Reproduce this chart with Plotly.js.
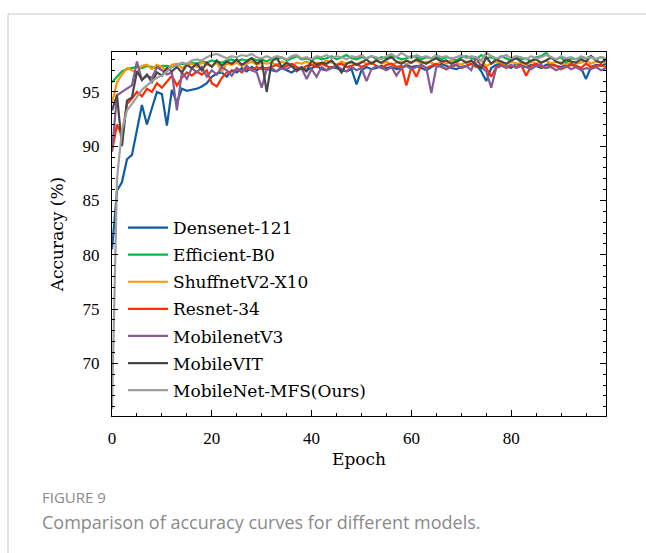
<!DOCTYPE html>
<html>
<head>
<meta charset="utf-8">
<script src="https://cdn.plot.ly/plotly-3.0.1.min.js"></script>
<style>html,body{margin:0;padding:0;background:#fff;}#chart{width:646px;height:553px;}</style>
</head>
<body>
<div id="chart"></div>
<script>
const epochs = Array.from({length: 100}, (_, i) => i);

const seriesNames = ["Densenet-121", "Efficient-B0", "ShuffnetV2-X10", "Resnet-34", "MobilenetV3", "MobileVIT", "MobileNet-MFS(Ours)"];
const seriesColors = ["#0C5DA5", "#00B945", "#FF9500", "#FF2C00", "#845B97", "#474747", "#9e9e9e"];

const densenet = [80.5,85.9,86.7,88.8,89.2,91.5,93.8,92.0,93.5,95.0,94.8,91.9,95.2,94.0,95.3,95.1,95.2,95.3,95.5,95.8,96.4,96.7,96.8,96.4,97.0,96.8,97.2,96.9,97.3,97.0,97.3,97.1,
97.0,96.9,97.2,97.0,96.8,97.1,97.3,97.0,97.2,97.4,97.1,97.0,97.3,97.2,97.0,96.9,97.1,95.7,97.0,97.3,97.1,97.2,97.4,97.2,97.3,97.1,97.2,97.5,97.3,97.4,97.2,97.0,97.3,97.5,97.6,97.4,97.2,97.1,97.3,97.4,97.6,97.5,96.9,96.0,97.2,97.5,97.6,97.4,97.2,97.6,97.4,97.3,97.5,97.4,97.2,97.5,97.6,97.4,97.3,97.5,97.6,97.4,97.2,96.2,97.3,97.5,97.4,97.6];

const efficient = [95.9,96.4,96.9,97.1,97.2,97.3,97.2,97.4,97.3,97.2,97.4,97.4,97.3,97.5,97.6,97.5,97.7,97.6,97.8,97.7,97.9,97.8,97.7,97.9,98.0,97.8,98.0,97.9,98.1,97.9,98.0,97.8,
98.1,98.0,98.2,97.9,98.1,98.3,98.0,98.1,97.9,98.2,98.0,98.1,98.3,98.0,98.2,98.4,98.1,98.0,98.2,98.1,98.3,98.0,98.2,98.1,98.3,98.2,98.0,98.1,98.3,98.2,98.0,98.2,98.1,98.3,98.0,98.2,98.1,97.9,98.2,98.3,98.1,98.0,98.4,98.1,98.2,98.0,98.3,98.1,97.9,98.2,98.0,98.1,97.8,98.2,98.3,98.6,98.1,98.0,98.2,97.7,98.1,98.0,98.2,98.1,98.3,98.0,98.2,98.1];

const shufflenet = [94.0,95.9,96.6,97.2,97.0,96.8,97.4,97.5,97.1,97.5,97.3,96.9,97.5,97.6,97.2,97.5,97.6,97.3,97.7,97.5,97.4,97.7,96.9,97.6,97.5,97.7,97.4,97.6,97.8,97.5,97.7,97.6,
97.7,97.5,97.8,97.6,97.4,97.7,97.6,97.8,97.5,97.7,97.6,97.9,97.7,97.5,97.8,97.6,97.7,97.5,97.8,97.6,97.7,97.9,97.6,97.8,97.5,97.7,97.8,97.6,97.7,97.9,97.6,97.8,97.7,97.5,97.8,97.6,97.9,97.7,97.5,97.8,97.6,97.7,97.9,97.4,97.6,97.8,97.7,97.5,97.8,97.6,97.7,97.5,97.8,97.6,97.7,97.9,97.6,97.8,97.7,97.5,97.8,97.6,97.7,97.9,97.6,97.8,97.7,97.8];

const resnet = [89.5,92.0,91.0,93.9,94.4,95.0,94.6,95.3,95.0,95.8,95.4,96.0,96.5,95.6,96.3,96.8,96.5,96.9,96.6,97.0,95.8,95.5,96.3,96.8,96.9,97.1,96.8,97.2,97.0,97.3,97.1,97.2,
97.3,97.5,97.2,97.4,97.6,97.3,97.1,97.4,97.5,97.3,97.6,97.4,97.2,97.5,97.6,97.3,97.4,97.6,97.3,97.5,97.7,97.4,97.2,97.5,97.6,97.3,97.4,95.6,97.3,96.4,97.5,97.2,97.4,97.6,97.3,97.1,97.4,97.5,97.2,97.4,97.6,97.3,97.5,97.2,96.4,97.3,97.5,97.2,97.4,97.3,97.5,96.5,97.4,97.6,97.3,97.2,97.5,97.4,97.1,97.3,97.5,97.4,97.2,97.6,97.3,97.4,97.5,97.3];

const mobilenetv3 = [89.5,94.7,95.0,95.3,95.6,97.8,96.1,96.5,96.3,97.3,97.0,96.6,96.8,93.3,96.8,96.2,97.2,96.8,97.3,96.4,97.0,96.6,97.3,97.0,96.5,97.2,96.9,97.4,97.0,96.8,95.4,97.1,
97.2,96.9,97.3,97.1,97.4,96.9,97.2,96.2,97.1,96.4,97.3,97.0,97.2,97.4,97.1,96.9,97.3,97.0,97.2,96.0,97.1,97.4,97.2,97.0,97.3,96.5,97.2,97.4,97.1,97.3,97.5,97.2,94.9,97.3,97.4,97.1,97.3,97.5,97.2,97.4,97.0,98.2,97.3,96.9,95.4,97.2,97.4,97.3,97.5,97.2,97.4,97.3,97.1,97.4,97.5,97.2,97.3,97.0,97.2,97.4,97.1,97.3,97.0,97.2,97.1,97.3,97.0,97.2];

const mobilevit = [93.3,94.7,90.0,94.2,94.5,96.9,96.1,96.6,95.9,96.8,96.5,97.2,96.9,97.3,96.8,97.5,97.2,97.6,97.0,97.7,97.3,97.9,97.4,97.8,97.6,98.0,97.5,97.8,98.1,97.6,97.9,95.0,
97.8,98.2,97.3,97.7,97.4,97.0,97.2,96.9,97.9,97.5,97.7,97.6,97.9,97.4,96.8,97.6,97.8,97.5,97.7,98.0,97.6,97.9,97.7,98.0,98.2,97.8,97.6,97.9,97.7,98.0,97.8,97.6,97.9,98.1,97.8,97.9,97.6,97.8,98.0,97.7,97.9,97.5,97.2,98.2,97.6,98.0,97.8,97.6,97.9,98.1,97.8,97.6,97.9,98.0,97.7,97.9,98.2,97.8,97.6,98.0,97.8,97.7,98.0,97.8,98.3,97.9,97.7,98.0];

const mobilenetMFS = [65.8,87.0,91.5,93.3,93.9,94.5,95.2,95.6,96.0,96.3,96.5,96.9,97.3,97.5,97.7,97.6,97.9,98.0,97.9,98.2,98.4,98.5,98.3,98.1,98.3,98.2,98.4,98.3,98.5,98.2,98.1,98.3,
98.1,98.3,98.2,98.0,98.3,98.4,98.1,98.2,98.0,98.3,98.2,98.4,98.1,98.3,98.2,98.0,98.3,98.2,98.4,98.1,98.3,98.2,98.0,98.3,98.5,98.2,98.6,98.3,98.1,98.4,98.2,98.3,98.1,98.4,98.2,98.3,98.0,98.2,98.4,98.1,98.3,98.2,97.9,98.6,98.3,98.1,98.2,98.4,98.1,98.3,98.2,98.0,98.3,98.1,98.2,98.4,98.2,98.0,98.3,98.1,98.2,98.0,98.3,98.1,98.2,98.0,98.2,98.1];

const xTickVals = [0, 20, 40, 60, 80];
const yTickVals = [70, 75, 80, 85, 90, 95];

const allSeries = [densenet, efficient, shufflenet, resnet, mobilenetv3, mobilevit, mobilenetMFS];

// plot area in pixels
const W = 646, H = 553, L = 112, R = 606, T = 52, B = 416;
const px = x => (x - L) / (R - L);
const py = y => (B - y) / (B - T);

const serifTick = "'Liberation Serif', 'DejaVu Serif', serif";
const serifText = "'DejaVu Serif', 'Liberation Serif', serif";

const traces = allSeries.map((ys, i) => ({
  type: 'scatter', mode: 'lines', x: epochs, y: ys, name: seriesNames[i],
  legendgroup: 'g' + i,
  line: {color: seriesColors[i], width: 2.2}
}));

const axisCommon = {
  showline: true, linecolor: '#000', linewidth: 1.2, mirror: 'ticks',
  ticks: 'inside', ticklen: 6, tickwidth: 1, tickcolor: '#000',
  showgrid: false, zeroline: false,
  tickfont: {family: serifTick, size: 17, color: '#000'},
};

const layout = {
  width: W, height: H,
  margin: {l: L, r: W - R, t: T, b: H - B},
  paper_bgcolor: '#fff', plot_bgcolor: '#fff',
  showlegend: true,
  legend: {
    x: px(123), y: py(210), xanchor: 'left', yanchor: 'top',
    bgcolor: 'rgba(0,0,0,0)', borderwidth: 0,
    font: {family: serifText, size: 17, color: '#000'},
    tracegroupgap: 2, itemwidth: 40
  },
  xaxis: Object.assign({}, axisCommon, {
    range: [0, 99], tickvals: xTickVals, ticktext: xTickVals.map(String),
    minor: {dtick: 5, tick0: 0, ticks: 'inside', ticklen: 3, tickcolor: '#000', showgrid: false},
    ticklabelstandoff: 6,
    title: {text: 'Epoch', font: {family: serifText, size: 17, color: '#000'}, standoff: 6}
  }),
  yaxis: Object.assign({}, axisCommon, {
    range: [65.15, 98.68], tickvals: yTickVals, ticktext: yTickVals.map(String),
    minor: {dtick: 1, tick0: 0, ticks: 'inside', ticklen: 3, tickcolor: '#000', showgrid: false},
    ticklabelstandoff: 8,
    title: {text: 'Accuracy (%)', font: {family: serifText, size: 17, color: '#000'}, standoff: 14}
  }),
  shapes: [
    {type: 'line', xref: 'paper', yref: 'paper', x0: px(8), x1: px(646), y0: py(14), y1: py(14), line: {color: '#c8c8c8', width: 1}},
    {type: 'line', xref: 'paper', yref: 'paper', x0: px(8), x1: px(8), y0: py(14), y1: py(553), line: {color: '#c8c8c8', width: 1}}
  ],
  annotations: [
    {text: 'FIGURE 9', xref: 'paper', yref: 'paper', x: px(40), y: py(497), xanchor: 'left', yanchor: 'middle', showarrow: false,
     font: {family: "'Open Sans', 'Noto Sans', sans-serif", size: 15, color: '#8a8a8a'}},
    {text: 'Comparison of accuracy curves for different models.', xref: 'paper', yref: 'paper', x: px(40), y: py(522), xanchor: 'left', yanchor: 'middle', showarrow: false,
     font: {family: "'Open Sans', 'Noto Sans', sans-serif", size: 18, color: '#8a8a8a'}}
  ]
};

Plotly.newPlot('chart', traces, layout, {displayModeBar: false, staticPlot: true});
</script>
</body>
</html>
